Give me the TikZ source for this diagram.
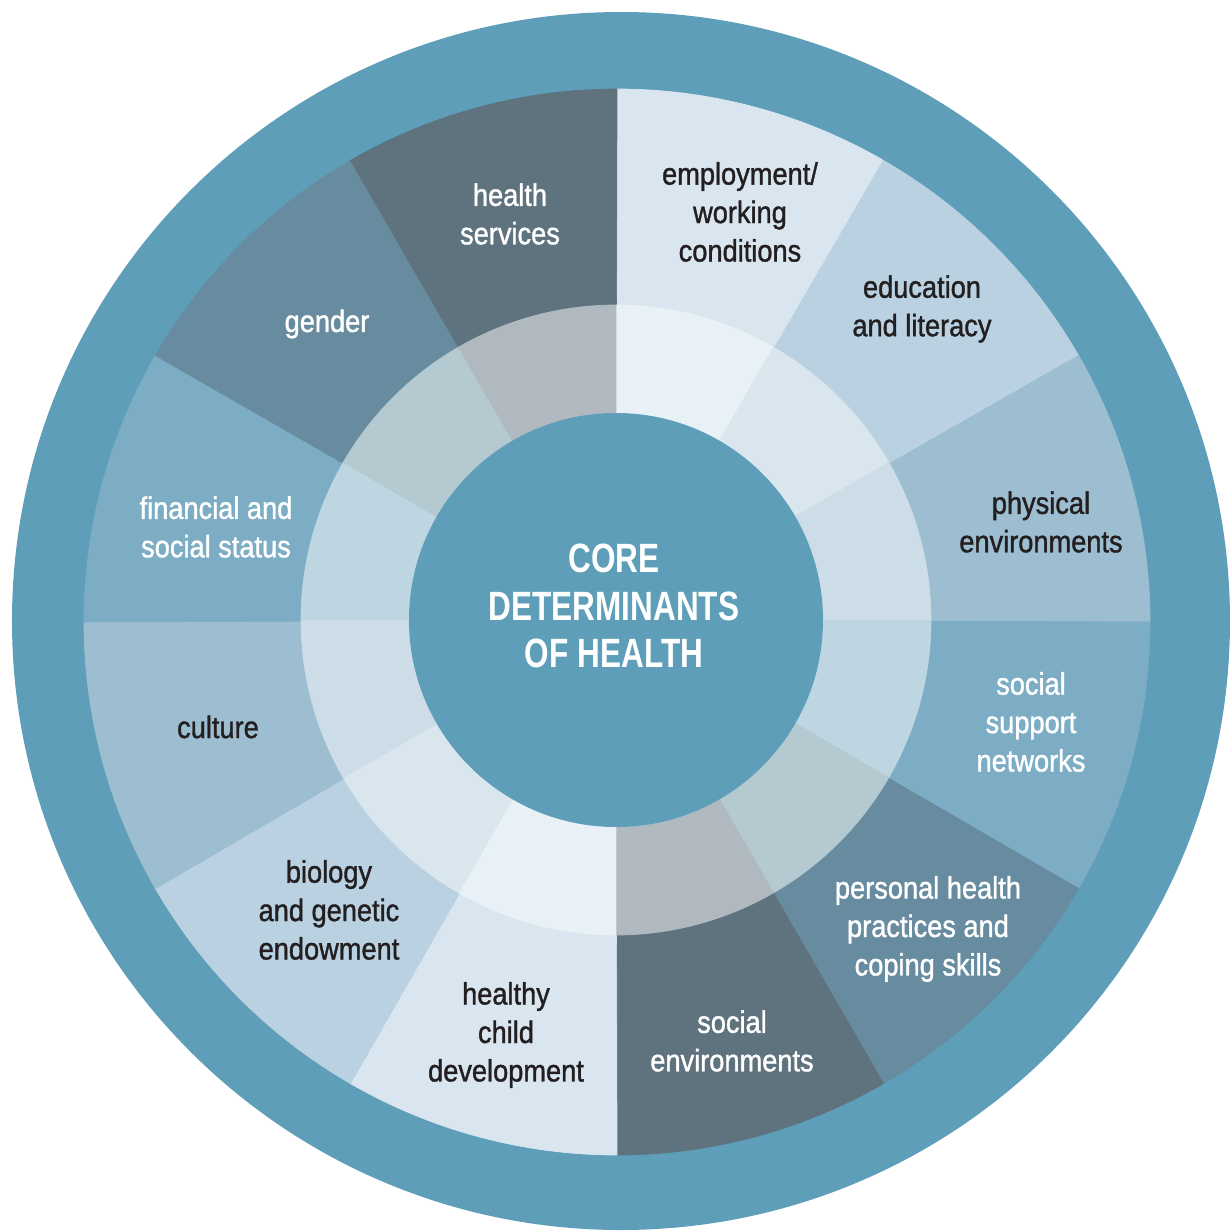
\documentclass[tikz,border=0pt]{standalone}
\usepackage{fontspec}
\setmainfont{Liberation Sans}[FakeStretch=0.88, FakeBold=1.2]
\newfontfamily\titlefont{Liberation Sans}[FakeStretch=0.77]

\definecolor{ringblue}{HTML}{5E9EB9}
\definecolor{txtdark}{HTML}{231F20}
% outer sectors, light to dark
\definecolor{secA}{HTML}{D9E6EF}
\definecolor{secB}{HTML}{B9D1E1}
\definecolor{secC}{HTML}{9DBED1}
\definecolor{secD}{HTML}{7DADC4}
\definecolor{secE}{HTML}{688C9F}
\definecolor{secF}{HTML}{5F737F}
% middle ring
\definecolor{midA}{HTML}{E8F1F5}
\definecolor{midB}{HTML}{D9E6EE}
\definecolor{midC}{HTML}{CCDDE7}
\definecolor{midD}{HTML}{BDD6E2}
\definecolor{midE}{HTML}{B4C9D0}
\definecolor{midF}{HTML}{B0B9C0}

\begin{document}
\begin{tikzpicture}[x=0.02cm, y=0.02cm,
		piece/.style={line width=0.4pt},
		sectortext/.style={align=center, inner sep=0pt, font=\fontsize{17.6}{21.9}\selectfont},
		darktext/.style={sectortext, text=txtdark},
		whitetext/.style={sectortext, text=white}]
	\useasboundingbox (-616,-612) rectangle (614,620);
	\clip (-616,-612) rectangle (614,620);
	
	\fill[ringblue] (5,-1) circle[radius=609];
	
	% outer sectors
	\filldraw[piece, fill=secA, draw=secA] (0,0) -- ([shift={(1,-2)}]90:533) arc[start angle=90, end angle=60, radius=533] -- cycle;
	\filldraw[piece, fill=secB, draw=secB] (0,0) -- ([shift={(1,-2)}]60:533) arc[start angle=60, end angle=30, radius=533] -- cycle;
	\filldraw[piece, fill=secC, draw=secC] (0,0) -- ([shift={(1,-2)}]30:533) arc[start angle=30, end angle=0, radius=533] -- cycle;
	\filldraw[piece, fill=secD, draw=secD] (0,0) -- ([shift={(1,-2)}]0:533) arc[start angle=0, end angle=-30, radius=533] -- cycle;
	\filldraw[piece, fill=secE, draw=secE] (0,0) -- ([shift={(1,-2)}]-30:533) arc[start angle=-30, end angle=-60, radius=533] -- cycle;
	\filldraw[piece, fill=secF, draw=secF] (0,0) -- ([shift={(1,-2)}]-60:533) arc[start angle=-60, end angle=-90, radius=533] -- cycle;
	\filldraw[piece, fill=secA, draw=secA] (0,0) -- ([shift={(1,-2)}]-90:533) arc[start angle=-90, end angle=-120, radius=533] -- cycle;
	\filldraw[piece, fill=secB, draw=secB] (0,0) -- ([shift={(1,-2)}]-120:533) arc[start angle=-120, end angle=-150, radius=533] -- cycle;
	\filldraw[piece, fill=secC, draw=secC] (0,0) -- ([shift={(1,-2)}]-150:533) arc[start angle=-150, end angle=-180, radius=533] -- cycle;
	\filldraw[piece, fill=secD, draw=secD] (0,0) -- ([shift={(1,-2)}]180:533) arc[start angle=180, end angle=150, radius=533] -- cycle;
	\filldraw[piece, fill=secE, draw=secE] (0,0) -- ([shift={(1,-2)}]150:533) arc[start angle=150, end angle=120, radius=533] -- cycle;
	\filldraw[piece, fill=secF, draw=secF] (0,0) -- ([shift={(1,-2)}]120:533) arc[start angle=120, end angle=90, radius=533] -- cycle;
	
	% middle ring
	\filldraw[piece, fill=midA, draw=midA] (0,0) -- (90:315) arc[start angle=90, end angle=60, radius=315] -- cycle;
	\filldraw[piece, fill=midB, draw=midB] (0,0) -- (60:315) arc[start angle=60, end angle=30, radius=315] -- cycle;
	\filldraw[piece, fill=midC, draw=midC] (0,0) -- (30:315) arc[start angle=30, end angle=0, radius=315] -- cycle;
	\filldraw[piece, fill=midD, draw=midD] (0,0) -- (0:315) arc[start angle=0, end angle=-30, radius=315] -- cycle;
	\filldraw[piece, fill=midE, draw=midE] (0,0) -- (-30:315) arc[start angle=-30, end angle=-60, radius=315] -- cycle;
	\filldraw[piece, fill=midF, draw=midF] (0,0) -- (-60:315) arc[start angle=-60, end angle=-90, radius=315] -- cycle;
	\filldraw[piece, fill=midA, draw=midA] (0,0) -- (-90:315) arc[start angle=-90, end angle=-120, radius=315] -- cycle;
	\filldraw[piece, fill=midB, draw=midB] (0,0) -- (-120:315) arc[start angle=-120, end angle=-150, radius=315] -- cycle;
	\filldraw[piece, fill=midC, draw=midC] (0,0) -- (-150:315) arc[start angle=-150, end angle=-180, radius=315] -- cycle;
	\filldraw[piece, fill=midD, draw=midD] (0,0) -- (180:315) arc[start angle=180, end angle=150, radius=315] -- cycle;
	\filldraw[piece, fill=midE, draw=midE] (0,0) -- (150:315) arc[start angle=150, end angle=120, radius=315] -- cycle;
	\filldraw[piece, fill=midF, draw=midF] (0,0) -- (120:315) arc[start angle=120, end angle=90, radius=315] -- cycle;
	
	\fill[ringblue] (0,0) circle[radius=207];
	
	\node[whitetext, font=\titlefont\bfseries\fontsize{23.3}{27.2}\selectfont] (core) at (-2,14) {CORE\\DETERMINANTS\\OF HEALTH};
	
	\node[darktext] (employ) at (124,408) {employment/\\working\\conditions};
	\node[darktext] (educ) at (306,311) {education\\and literacy};
	\node[darktext] (phys) at (425,98) {physical\\environments};
	\node[whitetext] (support) at (415,-102) {social\\support\\networks};
	\node[whitetext] (coping) at (312,-309) {personal health\\practices and\\coping skills};
	\node[whitetext] (socenv) at (116,-421) {social\\environments};
	\node[darktext] (child) at (-110,-415) {healthy\\child\\development};
	\node[darktext] (biology) at (-287,-290) {biology\\and genetic\\endowment};
	\node[darktext] (culture) at (-398,-107) {culture};
	\node[whitetext] (status) at (-400,93) {financial and\\social status};
	\node[whitetext] (gender) at (-289,296) {gender};
	\node[whitetext] (services) at (-106,406) {health\\services};
\end{tikzpicture}
\end{document}
